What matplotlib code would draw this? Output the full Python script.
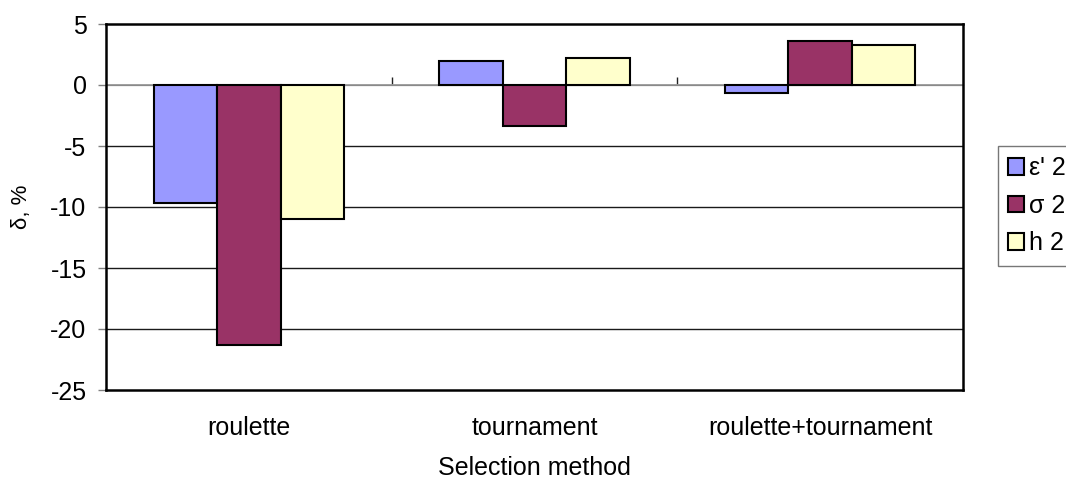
import matplotlib

matplotlib.use("Agg")
import matplotlib.pyplot as plt
import numpy as np

plt.rcParams["font.family"] = ["Liberation Sans", "DejaVu Sans"]

CATEGORIES = ["roulette", "tournament", "roulette+tournament"]
SERIES = ["ε' 2", "σ 2", "h 2"]
EPS_2 = [-9.7, 1.95, -0.65]
SIGMA_2 = [-21.3, -3.4, 3.6]
H_2 = [-11.0, 2.25, 3.25]
Y_TICKS = [5, 0, -5, -10, -15, -20, -25]

COLORS = ["#9999FF", "#993366", "#FFFFCC"]
BAR_WIDTH = 1 / 4.5  # excel gap width 150%
FONT_SIZE = 18


def main() -> None:
    fig = plt.figure(figsize=(10.66, 4.79), dpi=100)
    ax = fig.add_axes([106 / 1066, 1 - 390 / 479, 857 / 1066, 366 / 479])

    x = np.arange(len(CATEGORIES))
    values = [EPS_2, SIGMA_2, H_2]
    bars = []
    for i, (vals, color) in enumerate(zip(values, COLORS)):
        b = ax.bar(x + (i - 1) * BAR_WIDTH, vals, width=BAR_WIDTH, color=color,
                   edgecolor="black", linewidth=1.5, zorder=3)
        bars.append(b)

    ax.set_xlim(-0.5, len(CATEGORIES) - 0.5)
    ax.set_ylim(min(Y_TICKS), max(Y_TICKS))
    ax.set_yticks(Y_TICKS)
    ax.set_yticklabels([str(t) for t in Y_TICKS], fontsize=FONT_SIZE)
    ax.tick_params(axis="y", direction="out", length=6, width=1, color="#808080", pad=8)

    # category labels sit below the plot, tick marks live on the zero line
    ax.set_xticks(x)
    ax.set_xticklabels(CATEGORIES, fontsize=FONT_SIZE)
    ax.tick_params(axis="x", length=0, pad=19)

    for t in Y_TICKS[2:-1]:
        ax.axhline(t, color="#1a1a1a", linewidth=1.0, zorder=1)
    ax.axhline(0, color="#999999", linewidth=1.3, zorder=2)

    ymin, ymax = ax.get_ylim()
    zero_frac = (0 - ymin) / (ymax - ymin)
    sec = ax.secondary_xaxis(zero_frac)
    sec.set_xticks(x[:-1] + 0.5)
    sec.set_xticklabels([])
    sec.tick_params(axis="x", direction="out", length=6, width=1, color="#222222")
    sec.spines["bottom"].set_visible(False)

    for spine in ax.spines.values():
        spine.set_linewidth(1.8)
        spine.set_color("black")

    ax.set_ylabel("δ, %", fontsize=16, labelpad=13)
    ax.set_xlabel("Selection method", fontsize=FONT_SIZE, labelpad=11)

    leg = fig.legend([b[0] for b in bars], SERIES, loc="upper left",
                     bbox_to_anchor=(998 / 1066, 1 - 146 / 479), fontsize=FONT_SIZE,
                     frameon=True, fancybox=False, edgecolor="#555555",
                     handlelength=0.65, handleheight=0.65, handletextpad=0.2,
                     borderpad=0.4, labelspacing=0.55, borderaxespad=0)
    leg.get_frame().set_linewidth(1.0)

    fig.savefig("out.png", dpi=100)
    plt.close(fig)


if __name__ == "__main__":
    main()
